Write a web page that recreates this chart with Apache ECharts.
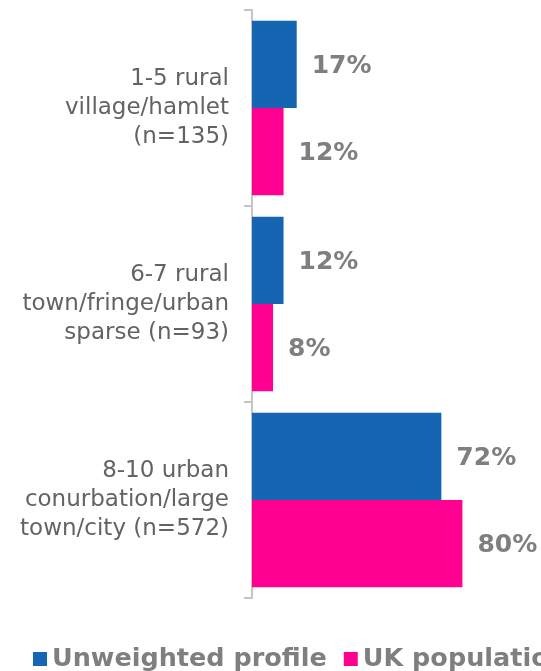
<!DOCTYPE html>
<html>
<head>
<meta charset="utf-8">
<script src="https://cdn.jsdelivr.net/npm/echarts@6/dist/echarts.min.js"></script>
<style>html,body{margin:0;padding:0;background:#fff}#c{width:541px;height:671px}</style>
</head>
<body>
<div id="c"></div>
<script>
const categories = [
  "1-5 rural\nvillage/hamlet\n(n=135)",
  "6-7 rural\ntown/fringe/urban\nsparse (n=93)",
  "8-10 urban\nconurbation/large\ntown/city (n=572)"
];
const seriesNames = ["Unweighted profile", "UK population"];
const unweighted = [17, 12, 72];
const ukPopulation = [12, 8, 80];

const colors = ["#1565B3", "#FF0090"];
const chart = echarts.init(document.getElementById('c'), null, {renderer: 'canvas'});
const labelStyle = {
  show: true, position: 'right', distance: 15, offset: [0, 2],
  formatter: p => p.value + '%',
  fontFamily: 'DejaVu Sans', fontWeight: 'bold', fontSize: 25, color: '#7f7f7f'
};
chart.setOption({
  animation: false,
  color: colors,
  grid: {left: 252, right: 26, top: 10, bottom: 73, containLabel: false},
  xAxis: {type: 'value', min: 0, max: 100, show: false},
  yAxis: {
    type: 'category', data: categories, inverse: true,
    axisLine: {show: true, lineStyle: {color: '#c4c4c4', width: 2}},
    axisTick: {show: true, length: 8, lineStyle: {color: '#c4c4c4', width: 2}},
    axisLabel: {
      margin: 23, align: 'right', fontFamily: 'DejaVu Sans', fontSize: 23,
      lineHeight: 29, color: '#636363', padding: [5, 0, 0, 0]
    }
  },
  legend: {
    show: true, left: 28, top: 641, width: 2000, orient: 'horizontal',
    icon: 'rect', itemWidth: 14, itemHeight: 14, itemGap: 17,
    textStyle: {fontFamily: 'DejaVu Sans', fontWeight: 'bold', fontSize: 25.5, color: '#7f7f7f'},
    data: seriesNames
  },
  series: [
    {name: seriesNames[0], type: 'bar', data: unweighted, barGap: '0%', barCategoryGap: '11%', label: labelStyle},
    {name: seriesNames[1], type: 'bar', data: ukPopulation, barGap: '0%', barCategoryGap: '11%', label: labelStyle}
  ]
});
</script>
</body>
</html>
